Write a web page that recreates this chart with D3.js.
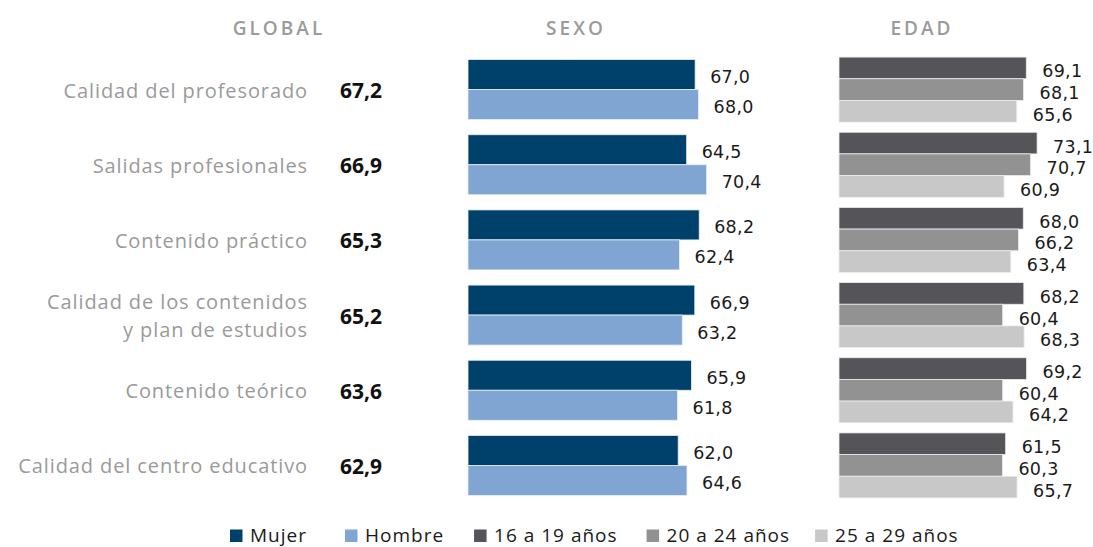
<!DOCTYPE html>
<html><head><meta charset="utf-8">
<script src="https://cdn.jsdelivr.net/npm/d3@7"></script>
<style>
html,body{margin:0;padding:0;background:#fff;}
svg{display:block;font-family:"Open Sans",sans-serif;}
</style></head>
<body><svg id="c" width="1093" height="547"></svg>
<script>
const categories = [["Calidad del profesorado"],["Salidas profesionales"],["Contenido práctico"],["Calidad de los contenidos","y plan de estudios"],["Contenido teórico"],["Calidad del centro educativo"]];
const globalValues = [67.2, 66.9, 65.3, 65.2, 63.6, 62.9];
const mujer = [67.0, 64.5, 68.2, 66.9, 65.9, 62.0];
const hombre = [68.0, 70.4, 62.4, 63.2, 61.8, 64.6];
const age16_19 = [69.1, 73.1, 68.0, 68.2, 69.2, 61.5];
const age20_24 = [68.1, 70.7, 66.2, 60.4, 60.4, 60.3];
const age25_29 = [65.6, 60.9, 63.4, 68.3, 64.2, 65.7];
const sexoSeries = ["Mujer","Hombre"];
const edadSeries = ["16 a 19 años","20 a 24 años","25 a 29 años"];
const headers = ["GLOBAL","SEXO","EDAD"];

const sexoColors = {"Mujer":"#00416b","Hombre":"#80a5d3"};
const edadColors = {"16 a 19 años":"#545459","20 a 24 años":"#929292","25 a 29 años":"#c8c8c8"};
const fmt = v => d3.format(".1f")(v).replace(".", ",");

const svg = d3.select("#c");
const idx = d3.range(categories.length);
const y = d3.scaleBand().domain(idx).range([52, 503]).padding(0);
const xS = d3.scaleLinear().domain([0,100]).range([468, 807]);
const xE = d3.scaleLinear().domain([0,100]).range([839, 1110]);
const valFont = "'DejaVu Sans',sans-serif";

// headers
const hx = [279, 576, 922];
headers.forEach((h,i)=>{
  svg.append("text").attr("x",hx[i]).attr("y",35).attr("text-anchor","middle")
    .attr("font-size",19).attr("font-weight",600).attr("letter-spacing","3px").attr("fill","#9b9b9b").text(h);
});

// category labels
idx.forEach(i=>{
  const c = y(i)+y.bandwidth()/2;
  const lines = categories[i];
  const t = svg.append("text").attr("x",308).attr("text-anchor","end").attr("font-size",20)
    .attr("fill","#9a9a9a").attr("letter-spacing","0.9px");
  lines.forEach((l,k)=>{
    t.append("tspan").attr("x",308).attr("y", c + 8 + (k - (lines.length-1)/2)*27.5).text(l);
  });
  svg.append("text").attr("x",340).attr("y",c+8.5).attr("font-size",21).attr("font-weight",700)
    .attr("fill","#111").text(fmt(globalValues[i]));
});

// SEXO bars
const sexoData = idx.flatMap(i=>[{i,s:"Mujer",v:mujer[i]},{i,s:"Hombre",v:hombre[i]}]);
const sub = d3.scaleBand().domain(sexoSeries).range([-30,30]).padding(0);
svg.append("g").selectAll("rect").data(sexoData).join("rect")
  .attr("x",xS(0)).attr("y",d=>y(d.i)+y.bandwidth()/2+sub(d.s))
  .attr("width",d=>xS(d.v)-xS(0)).attr("height",sub.bandwidth())
  .attr("fill",d=>sexoColors[d.s]).attr("stroke","#e8eef5").attr("stroke-width",0.8);
svg.append("g").selectAll("text").data(sexoData).join("text")
  .attr("x",d=>xS(d.v)+15).attr("y",d=>y(d.i)+y.bandwidth()/2+sub(d.s)+sub.bandwidth()/2+8.5)
  .attr("font-family",valFont).attr("font-size",17.5).attr("letter-spacing","0.3px")
  .attr("fill","#1a1a1a").text(d=>fmt(d.v));

// EDAD bars
const edadArr = [age16_19, age20_24, age25_29];
const edadData = idx.flatMap(i=>edadSeries.map((s,k)=>({i,s,v:edadArr[k][i]})));
const subE = d3.scaleBand().domain(edadSeries).range([-32.5,32.5]).padding(0);
svg.append("g").selectAll("rect").data(edadData).join("rect")
  .attr("x",xE(0)).attr("y",d=>y(d.i)+y.bandwidth()/2+subE(d.s))
  .attr("width",d=>xE(d.v)-xE(0)).attr("height",subE.bandwidth())
  .attr("fill",d=>edadColors[d.s]).attr("stroke","#ececec").attr("stroke-width",0.8);
svg.append("g").selectAll("text").data(edadData).join("text")
  .attr("x",d=>xE(d.v)+16).attr("y",d=>y(d.i)+y.bandwidth()/2+subE(d.s)+subE.bandwidth()/2+9.5)
  .attr("font-family",valFont).attr("font-size",17.5).attr("letter-spacing","0.3px")
  .attr("fill","#1a1a1a").text(d=>fmt(d.v));

// legend
const legendItems = sexoSeries.map(s=>({s,c:sexoColors[s]})).concat(edadSeries.map(s=>({s,c:edadColors[s]})));
let lx = 230;
const gapAfter = [38, 30, 29, 25, 0];
legendItems.forEach((it,k)=>{
  svg.append("rect").attr("x",lx).attr("y",529.5).attr("width",12.5).attr("height",12.5).attr("fill",it.c);
  const t = svg.append("text").attr("x",lx+20).attr("y",541.5).attr("font-size",19).attr("letter-spacing","1px")
    .attr("fill","#1a1a1a").text(it.s);
  const w = t.node().getComputedTextLength();
  lx = lx + 20 + w + gapAfter[k];
});
</script></body></html>
